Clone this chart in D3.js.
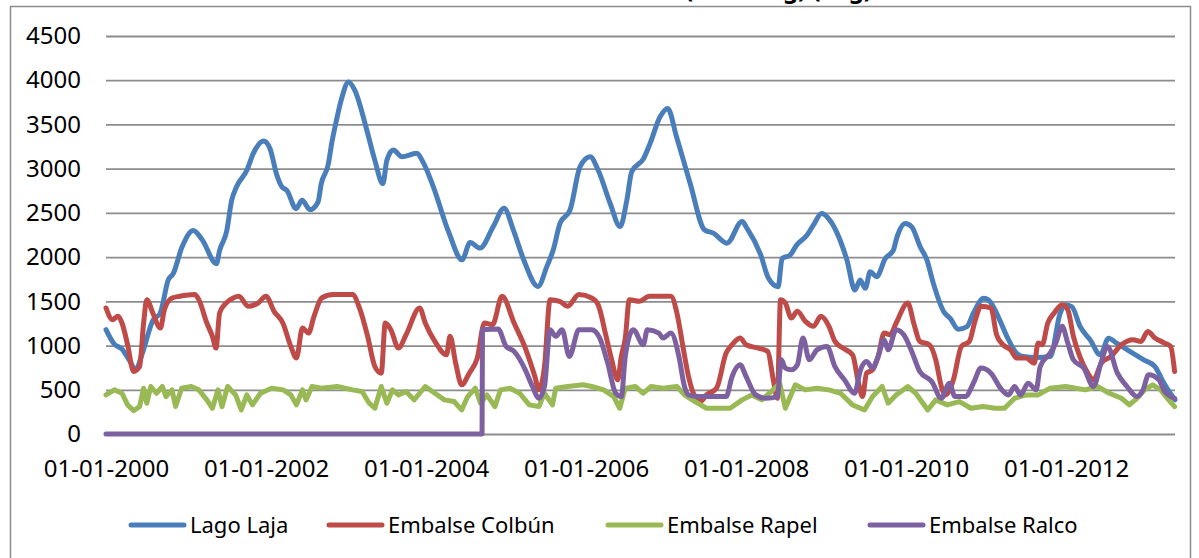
<!DOCTYPE html>
<meta charset="utf-8">
<style>
  body {
      margin: 0;
      padding: 0;
      background: #fff;
  }
  svg text {
      font-family: 'Noto Sans', sans-serif;
      fill: #000;
  }
  .grid line {
      stroke: #8c8c8c;
      stroke-width: 1.8;
  }
  .grid path, .axis path {
      stroke-width: 0;
  }
  .serie {
      fill: none;
      stroke-width: 5;
      stroke-linejoin: round;
      stroke-linecap: round;
  }
</style>
<body>
<div id="chart"></div>
<script src="https://d3js.org/d3.v7.min.js"></script>
<script>
// fechas como año decimal
var lagoLaja = [
    [2000.0, 1180], [2000.1, 1020], [2000.2, 960], [2000.3, 820], [2000.37, 725], [2000.45, 900],
    [2000.59, 1293], [2000.675, 1361], [2000.78, 1746], [2000.84, 1813], [2000.95, 2114], [2001.09, 2302],
    [2001.2, 2200], [2001.38, 1926], [2001.42, 2076], [2001.51, 2302], [2001.57, 2640], [2001.63, 2792],
    [2001.76, 2981], [2001.84, 3170], [2001.97, 3313], [2002.05, 3226], [2002.13, 2943], [2002.2, 2792],
    [2002.26, 2755], [2002.375, 2548], [2002.45, 2642], [2002.55, 2536], [2002.65, 2623], [2002.69, 2830],
    [2002.78, 3057], [2002.82, 3283], [2002.88, 3547], [2002.95, 3811], [2003.03, 3980], [2003.11, 3886],
    [2003.26, 3434], [2003.36, 3094], [2003.46, 2830], [2003.51, 3094], [2003.59, 3211], [2003.70, 3135],
    [2003.88, 3173], [2003.97, 3060], [2004.09, 2797], [2004.28, 2289], [2004.45, 1970], [2004.55, 2165],
    [2004.675, 2102], [2004.84, 2346], [2004.975, 2553], [2005.09, 2308], [2005.22, 1970], [2005.40, 1669],
    [2005.51, 1895], [2005.59, 2083], [2005.675, 2383], [2005.80, 2534], [2005.925, 3023], [2006.05, 3135],
    [2006.15, 2985], [2006.30, 2609], [2006.425, 2346], [2006.51, 2647], [2006.57, 2966], [2006.72, 3117],
    [2006.80, 3286], [2006.925, 3586], [2007.02, 3680], [2007.13, 3361], [2007.30, 2835], [2007.48, 2308],
    [2007.59, 2271], [2007.76, 2158], [2007.95, 2402], [2008.01, 2327], [2008.18, 2030], [2008.28, 1760],
    [2008.40, 1665], [2008.45, 1985], [2008.55, 2023], [2008.63, 2135], [2008.76, 2248], [2008.84, 2361],
    [2008.945, 2492], [2009.03, 2436], [2009.13, 2286], [2009.26, 1966], [2009.36, 1628], [2009.425, 1741],
    [2009.49, 1647], [2009.55, 1835], [2009.63, 1778], [2009.74, 1985], [2009.84, 2079], [2009.88, 2211],
    [2009.99, 2380], [2010.07, 2342], [2010.175, 2117], [2010.26, 1966], [2010.34, 1703], [2010.47, 1383],
    [2010.55, 1308], [2010.65, 1184], [2010.76, 1214], [2010.84, 1365], [2010.97, 1534], [2011.05, 1496],
    [2011.15, 1327], [2011.26, 1102], [2011.38, 914], [2011.46, 876], [2011.63, 866], [2011.80, 876],
    [2011.925, 1365], [2011.99, 1459], [2012.07, 1440], [2012.175, 1214], [2012.30, 1064], [2012.425, 895],
    [2012.53, 1083], [2012.63, 1027], [2012.80, 932], [2012.97, 838], [2013.11, 763], [2013.21, 594],
    [2013.30, 462], [2013.36, 387]
];

var embalseColbun = [
    [2000.0, 1425], [2000.08, 1293], [2000.15, 1330], [2000.2, 1255], [2000.27, 1009], [2000.345, 707],
    [2000.42, 763], [2000.47, 1255], [2000.51, 1519], [2000.585, 1368], [2000.68, 1198], [2000.73, 1406],
    [2000.825, 1538], [2000.92, 1557], [2001.11, 1576], [2001.16, 1519], [2001.26, 1255], [2001.33, 1104],
    [2001.375, 971], [2001.42, 1368], [2001.50, 1481], [2001.59, 1538], [2001.66, 1557], [2001.78, 1444],
    [2001.90, 1481], [2002.0, 1557], [2002.10, 1387], [2002.21, 1255], [2002.31, 990], [2002.38, 858],
    [2002.455, 1198], [2002.53, 1141], [2002.60, 1330], [2002.695, 1538], [2002.84, 1576], [2003.08, 1576],
    [2003.175, 1406], [2003.27, 1104], [2003.36, 763], [2003.44, 688], [2003.49, 1255], [2003.56, 1179],
    [2003.655, 971], [2003.75, 1122], [2003.92, 1425], [2003.99, 1255], [2004.11, 1047], [2004.255, 896],
    [2004.30, 1104], [2004.37, 801], [2004.445, 556], [2004.54, 688], [2004.64, 858], [2004.73, 1255],
    [2004.83, 1236], [2004.95, 1557], [2005.10, 1255], [2005.24, 971], [2005.36, 650], [2005.41, 499],
    [2005.48, 763], [2005.55, 1519], [2005.67, 1500], [2005.77, 1444], [2005.91, 1576], [2006.07, 1538],
    [2006.15, 1462], [2006.25, 1104], [2006.32, 839], [2006.395, 612], [2006.44, 877], [2006.49, 1085],
    [2006.54, 1519], [2006.665, 1500], [2006.79, 1557], [2007.06, 1557], [2007.135, 1368], [2007.21, 990],
    [2007.28, 650], [2007.36, 423], [2007.43, 367], [2007.505, 442], [2007.63, 518], [2007.75, 915],
    [2007.825, 1009], [2007.925, 1085], [2008.0, 1009], [2008.15, 971], [2008.27, 934], [2008.34, 612],
    [2008.39, 404], [2008.43, 1519], [2008.49, 1481], [2008.565, 1311], [2008.64, 1387], [2008.74, 1274],
    [2008.84, 1217], [2008.935, 1330], [2009.035, 1217], [2009.11, 1047], [2009.21, 971], [2009.33, 896],
    [2009.405, 574], [2009.455, 423], [2009.505, 688], [2009.58, 726], [2009.65, 877], [2009.725, 1141],
    [2009.80, 1122], [2009.875, 1255], [2010.02, 1481], [2010.10, 1236], [2010.17, 1047], [2010.29, 1009],
    [2010.37, 839], [2010.44, 537], [2010.49, 442], [2010.59, 612], [2010.69, 990], [2010.79, 1047],
    [2010.86, 1274], [2010.935, 1444], [2011.06, 1425], [2011.13, 1122], [2011.21, 1009], [2011.305, 952],
    [2011.38, 858], [2011.50, 858], [2011.60, 801], [2011.65, 1028], [2011.70, 1009], [2011.77, 1255],
    [2011.85, 1368], [2011.95, 1462], [2012.02, 1406], [2012.09, 1104], [2012.17, 877], [2012.27, 688],
    [2012.34, 612], [2012.44, 801], [2012.56, 877], [2012.69, 1009], [2012.835, 1066], [2012.935, 1047],
    [2013.02, 1160], [2013.11, 1085], [2013.23, 1028], [2013.305, 990], [2013.355, 707]
];

var embalseRapel = [
    [2000.0, 442], [2000.105, 499], [2000.2, 461], [2000.27, 329], [2000.345, 265], [2000.42, 310],
    [2000.47, 518], [2000.51, 348], [2000.56, 537], [2000.63, 461], [2000.705, 537], [2000.75, 423],
    [2000.825, 499], [2000.87, 310], [2000.945, 518], [2001.065, 537], [2001.16, 499], [2001.26, 386],
    [2001.33, 291], [2001.40, 499], [2001.45, 310], [2001.52, 537], [2001.62, 442], [2001.69, 272],
    [2001.76, 442], [2001.83, 329], [2001.93, 461], [2002.07, 518], [2002.215, 499], [2002.31, 442],
    [2002.38, 329], [2002.455, 499], [2002.50, 386], [2002.575, 537], [2002.695, 518], [2002.89, 537],
    [2003.08, 499], [2003.20, 480], [2003.29, 348], [2003.36, 291], [2003.44, 537], [2003.51, 348],
    [2003.58, 499], [2003.655, 442], [2003.75, 480], [2003.85, 386], [2003.99, 537], [2004.11, 461],
    [2004.23, 386], [2004.35, 367], [2004.445, 272], [2004.52, 423], [2004.615, 518], [2004.68, 348],
    [2004.76, 442], [2004.86, 310], [2004.93, 499], [2005.05, 518], [2005.17, 461], [2005.29, 329],
    [2005.41, 310], [2005.48, 461], [2005.58, 329], [2005.62, 518], [2005.77, 537], [2005.96, 556],
    [2006.07, 537], [2006.22, 499], [2006.345, 423], [2006.42, 291], [2006.49, 518], [2006.615, 537],
    [2006.715, 461], [2006.81, 537], [2006.96, 518], [2007.135, 537], [2007.23, 442], [2007.36, 367],
    [2007.505, 291], [2007.65, 291], [2007.80, 291], [2007.95, 386], [2008.07, 442], [2008.195, 386],
    [2008.29, 461], [2008.42, 574], [2008.49, 291], [2008.615, 556], [2008.74, 499], [2008.885, 518],
    [2009.035, 499], [2009.18, 461], [2009.33, 329], [2009.48, 272], [2009.58, 423], [2009.70, 537],
    [2009.775, 348], [2009.875, 442], [2010.02, 537], [2010.12, 461], [2010.27, 272], [2010.37, 386],
    [2010.515, 329], [2010.665, 367], [2010.81, 291], [2010.96, 310], [2011.11, 291], [2011.23, 291],
    [2011.355, 404], [2011.50, 442], [2011.65, 442], [2011.80, 518], [2011.995, 537], [2012.24, 499],
    [2012.39, 537], [2012.54, 461], [2012.69, 404], [2012.79, 329], [2012.885, 404], [2012.98, 499],
    [2013.08, 556], [2013.18, 499], [2013.28, 386], [2013.355, 310]
];

var embalseRalco = [
    [2000.0, 0], [2004.70, 0], [2004.705, 1179], [2004.90, 1187], [2005.0, 990], [2005.10, 934],
    [2005.24, 726], [2005.33, 537], [2005.41, 404], [2005.48, 537], [2005.55, 1179], [2005.62, 1104],
    [2005.70, 1179], [2005.79, 877], [2005.91, 1179], [2006.07, 1179], [2006.17, 1085], [2006.27, 801],
    [2006.37, 461], [2006.44, 423], [2006.49, 877], [2006.59, 1179], [2006.715, 1009], [2006.765, 1179],
    [2006.91, 1141], [2006.96, 1085], [2007.06, 1141], [2007.16, 877], [2007.23, 537], [2007.28, 442],
    [2007.405, 423], [2007.63, 423], [2007.75, 423], [2007.825, 650], [2007.925, 782], [2008.0, 650],
    [2008.12, 442], [2008.245, 404], [2008.39, 423], [2008.44, 839], [2008.49, 745], [2008.565, 726],
    [2008.64, 782], [2008.71, 1085], [2008.79, 839], [2008.885, 952], [2009.01, 990], [2009.11, 763],
    [2009.23, 612], [2009.355, 461], [2009.43, 726], [2009.505, 820], [2009.58, 745], [2009.65, 877],
    [2009.725, 1066], [2009.775, 952], [2009.875, 1179], [2009.97, 1122], [2010.07, 934], [2010.17, 707],
    [2010.32, 593], [2010.44, 404], [2010.54, 574], [2010.61, 423], [2010.74, 423], [2010.84, 574],
    [2010.935, 745], [2011.06, 688], [2011.18, 518], [2011.28, 442], [2011.355, 537], [2011.43, 442],
    [2011.525, 574], [2011.625, 499], [2011.675, 763], [2011.80, 915], [2011.87, 1028], [2011.95, 1217],
    [2012.02, 1028], [2012.09, 839], [2012.22, 745], [2012.34, 537], [2012.44, 820], [2012.515, 990],
    [2012.64, 688], [2012.76, 537], [2012.885, 423], [2012.96, 499], [2013.03, 669], [2013.16, 612],
    [2013.23, 480], [2013.355, 404]
];

var seriesNames = ["Lago Laja", "Embalse Colbún", "Embalse Rapel", "Embalse Ralco"];
var seriesColors = ["#4a7ebb", "#be4b48", "#98b954", "#7d60a0"];
var yTicks = [0, 500, 1000, 1500, 2000, 2500, 3000, 3500, 4000, 4500];
var xTicks = [2000, 2002, 2004, 2006, 2008, 2010, 2012];
var title = "Volumen Embalsado (Hm3 avg) (avg)";

var width = 1199,
    height = 558;

var svg = d3.select("#chart").append("svg")
    .attr("width", width)
    .attr("height", height);

// marco del grafico
svg.append("rect")
    .attr("x", 10.5)
    .attr("y", 6.5)
    .attr("width", 1180)
    .attr("height", 600)
    .attr("fill", "none")
    .attr("stroke", "#8c8c8c")
    .attr("stroke-width", 1.5);

// titulo cortado arriba como en el original
svg.append("text")
    .attr("x", 872)
    .attr("y", -2)
    .attr("text-anchor", "end")
    .style("font-size", "24px")
    .style("font-weight", "bold")
    .text(title);

var x = d3.scaleLinear()
    .domain([2000, 2013.36])
    .range([106, 1175]);

var y = d3.scaleLinear()
    .domain([0, 4500])
    .range([434, 36]);

svg.append("g")
    .attr("class", "grid")
    .attr("transform", "translate(106,0)")
    .call(d3.axisLeft(y)
        .tickValues(yTicks)
        .tickSize(-(1175 - 106))
        .tickFormat("")
    );

svg.append("g")
    .attr("class", "axis")
    .attr("transform", "translate(106,0)")
    .call(d3.axisLeft(y)
        .tickValues(yTicks)
        .tickSize(0)
        .tickPadding(25)
        .tickFormat(d3.format("d"))
    )
    .selectAll("text")
    .style("font-size", "24px");

svg.append("g")
    .attr("class", "axis")
    .attr("transform", "translate(0,434)")
    .call(d3.axisBottom(x)
        .tickValues(xTicks)
        .tickSize(0)
        .tickPadding(26)
        .tickFormat(function(d) { return "01-01-" + d; })
    )
    .selectAll("text")
    .style("font-size", "24px");

var line = d3.line()
    .x(function(d) { return x(d[0]); })
    .y(function(d) { return y(d[1]); })
    .curve(d3.curveMonotoneX);

var lineRapel = d3.line()
    .x(function(d) { return x(d[0]); })
    .y(function(d) { return y(d[1]); });

var allSeries = [lagoLaja, embalseColbun, embalseRapel, embalseRalco];

// la ultima serie queda encima, como en Excel
allSeries.forEach(function(serie, i) {
    svg.append("path")
        .datum(serie)
        .attr("class", "serie")
        .attr("stroke", seriesColors[i])
        .attr("d", i == 2 ? lineRapel : line);
});

// leyenda
var legendX = [131, 329, 608, 870];
var legend = svg.append("g").attr("transform", "translate(0,525)");
seriesNames.forEach(function(name, i) {
    legend.append("line")
        .attr("x1", legendX[i])
        .attr("x2", legendX[i] + 53)
        .attr("y1", 0)
        .attr("y2", 0)
        .attr("stroke", seriesColors[i])
        .attr("stroke-width", 5)
        .attr("stroke-linecap", "round");
    legend.append("text")
        .attr("x", legendX[i] + 59)
        .attr("y", 0)
        .attr("dy", "0.35em")
        .style("font-size", "22px")
        .text(name);
});
</script>
</body>
